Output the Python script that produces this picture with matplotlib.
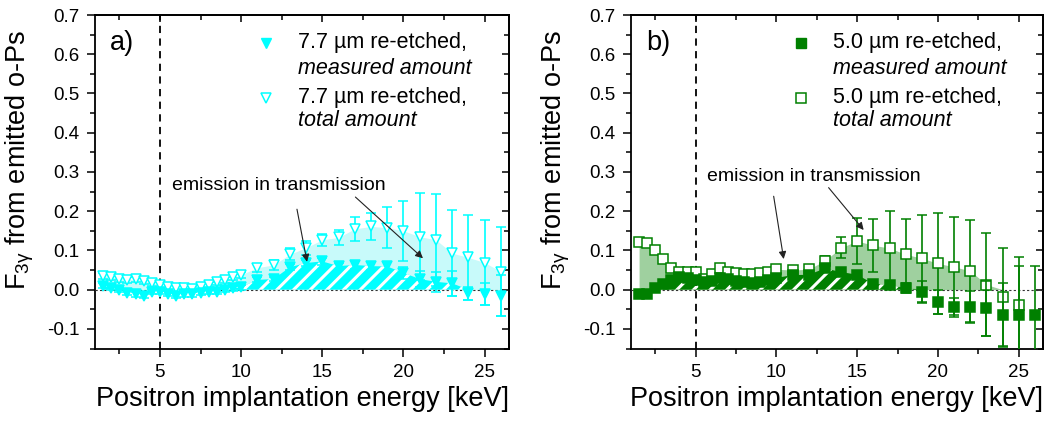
import numpy as np
import matplotlib
matplotlib.use('Agg')
import matplotlib.pyplot as plt
from matplotlib.lines import Line2D
from matplotlib.ticker import MultipleLocator

plt.rcParams['font.family'] = ['Liberation Sans', 'DejaVu Sans']
plt.rcParams['mathtext.fontset'] = 'custom'
plt.rcParams['mathtext.rm'] = 'Liberation Sans'
plt.rcParams['mathtext.it'] = 'Liberation Sans:italic'
plt.rcParams['hatch.linewidth'] = 2.2

# ---------------- data ----------------
energy = [1.5, 2.0, 2.5, 3.0, 3.5, 4.0, 4.5, 5.0, 5.5, 6.0, 6.5, 7.0, 7.5, 8.0, 8.5, 9.0, 9.5, 10.0,
          11, 12, 13, 14, 15, 16, 17, 18, 19, 20, 21, 22, 23, 24, 25, 26]

# panel a: 7.7 um re-etched
measured_a = [0.010, 0.005, 0.000, -0.008, -0.012, -0.015, -0.005, -0.005, -0.010, -0.015, -0.012, -0.012,
              -0.008, -0.005, -0.005, 0.000, 0.003, 0.006,
              0.025, 0.027, 0.057, 0.068, 0.072, 0.060, 0.063, 0.060, 0.059, 0.043, 0.027, 0.020, 0.016,
              -0.009, -0.012, -0.015]
measured_a_err = [0.006] * 18 + [0.006, 0.006, 0.008, 0.008, 0.008, 0.008, 0.010, 0.010, 0.012, 0.015,
                                 0.020, 0.025, 0.031, 0.017, 0.028, 0.053]
total_a = [0.035, 0.033, 0.028, 0.025, 0.027, 0.022, 0.018, 0.012, 0.008, 0.003, 0.005, 0.002, 0.008,
           0.012, 0.020, 0.025, 0.032, 0.038,
           0.056, 0.063, 0.090, 0.107, 0.127, 0.133, 0.155, 0.161, 0.158, 0.150, 0.135, 0.127, 0.093,
           0.082, 0.069, 0.046]
total_a_err = [0.008] * 18 + [0.010, 0.012, 0.015, 0.018, 0.015, 0.019, 0.031, 0.034, 0.052, 0.077,
                              0.111, 0.117, 0.110, 0.108, 0.109, 0.113]

# panel b: 5.0 um re-etched
measured_b = [-0.012, -0.012, 0.005, 0.015, 0.025, 0.032, 0.030, 0.025, 0.020, 0.022, 0.030, 0.028,
              0.022, 0.020, 0.018, 0.020, 0.025, 0.030,
              0.037, 0.038, 0.054, 0.045, 0.038, 0.015, 0.012, 0.004, -0.006, -0.032, -0.043, -0.044,
              -0.047, -0.064, -0.064, -0.064]
measured_b_err = [0.010] * 18 + [0.006, 0.006, 0.008, 0.008, 0.008, 0.008, 0.010, 0.012, 0.028, 0.031,
                                 0.022, 0.040, 0.070, 0.080, 0.125, 0.125]
total_b = [0.122, 0.118, 0.100, 0.078, 0.056, 0.046, 0.045, 0.044, 0.028, 0.040, 0.054, 0.046, 0.042,
           0.041, 0.040, 0.042, 0.046, 0.052,
           0.050, 0.052, 0.074, 0.107, 0.124, 0.113, 0.106, 0.090, 0.080, 0.067, 0.058, 0.048, 0.013,
           -0.019, -0.039, np.nan]
total_b_err = [0.008] * 18 + [0.008, 0.008, 0.012, 0.026, 0.058, 0.068, 0.094, 0.089, 0.111, 0.128,
                              0.128, 0.130, 0.132, 0.126, 0.122, np.nan]

x_ticks = [5, 10, 15, 20, 25]
y_ticks = [-0.1, 0.0, 0.1, 0.2, 0.3, 0.4, 0.5, 0.6, 0.7]

CYAN = '#00FFFF'
CYAN_LIGHT = '#C8FAFA'
GREEN = '#008000'
GREEN_LIGHT = '#9FD09F'

FS_TICK = 13.5
FS_LABEL = 19.5
FS_LEG = 15.5
FS_ANN = 14

fig = plt.figure(figsize=(10.57, 4.24), dpi=100)
W, H = 1057, 424
ax_a = fig.add_axes([95 / W, 75.5 / H, 414 / W, 333.5 / H])
ax_b = fig.add_axes([631 / W, 75.5 / H, 412 / W, 333.5 / H])


def draw_panel(ax, color, light, marker, ms, meas, meas_err, tot, tot_err, leg_label, letter,
               ann_xy_text, arrows):
    e = np.array(energy, dtype=float)
    m = np.array(meas, dtype=float)
    t = np.array(tot, dtype=float)
    # light shaded band: total amount
    ax.fill_between(e, 0, np.clip(t, 0, None), color=light, lw=0, zorder=1)
    # hatched band: measured amount
    ax.fill_between(e, 0, np.clip(m, 0, None), facecolor=color, edgecolor='white', hatch='//',
                    lw=0, zorder=2)
    ax.axhline(0, color='#333333', lw=0.8, ls=(0, (2, 2)), zorder=3)
    ax.axvline(5, color='black', lw=1.3, ls=(0, (4, 3)), zorder=3)
    ax.errorbar(e, t, yerr=tot_err, fmt=marker, ms=ms, mfc='white', mec=color, mew=1.1,
                ecolor=color, elinewidth=1.2, capsize=3.8, capthick=1.2, zorder=4)
    ax.errorbar(e, m, yerr=meas_err, fmt=marker, ms=ms, mfc=color, mec=color, mew=1.1,
                ecolor=color, elinewidth=1.2, capsize=3.8, capthick=1.2, zorder=5)

    ax.set_xlim(1, 26.5)
    ax.set_ylim(-0.15, 0.7)
    ax.set_xticks(x_ticks)
    ax.set_yticks(y_ticks)
    ax.set_yticklabels([f'{v:.1f}' for v in y_ticks])
    ax.xaxis.set_minor_locator(MultipleLocator(2.5))
    ax.yaxis.set_minor_locator(MultipleLocator(0.05))
    ax.tick_params(which='major', direction='out', length=6, width=1.1, labelsize=FS_TICK, pad=5)
    ax.tick_params(which='minor', direction='out', length=3.5, width=1.1)
    for s in ax.spines.values():
        s.set_linewidth(1.3)
    sec_y = ax.secondary_yaxis('right')
    sec_y.set_yticks(y_ticks)
    sec_y.yaxis.set_minor_locator(MultipleLocator(0.05))
    sec_y.tick_params(which='both', direction='in', labelright=False, width=1.1)
    sec_y.tick_params(which='major', length=5)
    sec_y.tick_params(which='minor', length=3.5)
    sec_y.spines['right'].set_linewidth(1.3)
    sec_x = ax.secondary_xaxis('top')
    sec_x.set_xticks(x_ticks)
    sec_x.xaxis.set_minor_locator(MultipleLocator(2.5))
    sec_x.tick_params(which='both', direction='in', labeltop=False, width=1.1)
    sec_x.tick_params(which='major', length=5)
    sec_x.tick_params(which='minor', length=3.5)
    sec_x.spines['top'].set_linewidth(1.3)

    ax.set_xlabel('Positron implantation energy [keV]', fontsize=FS_LABEL)
    ax.xaxis.set_label_coords(0.5, -0.112)
    ax.set_ylabel('F$_{\\mathregular{3γ}}$ from emitted o-Ps', fontsize=FS_LABEL)
    ax.yaxis.set_label_coords(-0.1425, 0.565)

    # panel letter
    ax.text(0.036, 0.916, letter, transform=ax.transAxes, fontsize=FS_LABEL, va='center', ha='left')

    # legend (manual)
    mx, tx = 0.413, 0.490
    ax.add_line(Line2D([mx], [0.916], transform=ax.transAxes, marker=marker, ms=ms,
                       mfc=color, mec=color, ls='none', clip_on=False))
    ax.add_line(Line2D([mx], [0.751], transform=ax.transAxes, marker=marker, ms=ms,
                       mfc='white', mec=color, mew=1.1, ls='none', clip_on=False))
    ax.text(tx, 0.919, leg_label, transform=ax.transAxes, fontsize=FS_LEG, va='center')
    ax.text(tx, 0.841, 'measured amount', transform=ax.transAxes, fontsize=FS_LEG, va='center',
            style='italic')
    ax.text(tx, 0.754, leg_label, transform=ax.transAxes, fontsize=FS_LEG, va='center')
    ax.text(tx, 0.685, 'total amount', transform=ax.transAxes, fontsize=FS_LEG, va='center',
            style='italic')

    # annotation
    ax.text(ann_xy_text[0], ann_xy_text[1], 'emission in transmission', fontsize=FS_ANN,
            va='center', ha='left', zorder=6)
    for (x0, y0), (x1, y1) in arrows:
        ax.annotate('', xy=(x1, y1), xytext=(x0, y0),
                    arrowprops=dict(arrowstyle='-|>', color='#222222', lw=0.8,
                                    mutation_scale=11, shrinkA=0, shrinkB=0), zorder=6)


draw_panel(ax_a, CYAN, CYAN_LIGHT, 'v', 7.5, measured_a, measured_a_err, total_a, total_a_err,
           '7.7 µm re-etched,', 'a)', (5.74, 0.265),
           [((13.44, 0.205), (14.06, 0.071)), ((17.04, 0.236), (21.2, 0.080))])
draw_panel(ax_b, GREEN, GREEN_LIGHT, 's', 6.8, measured_b, measured_b_err, total_b, total_b_err,
           '5.0 µm re-etched,', 'b)', (5.68, 0.289),
           [((9.83, 0.238), (10.45, 0.078)), ((13.23, 0.26), (15.4, 0.152))])

fig.savefig('out.png', dpi=100)
